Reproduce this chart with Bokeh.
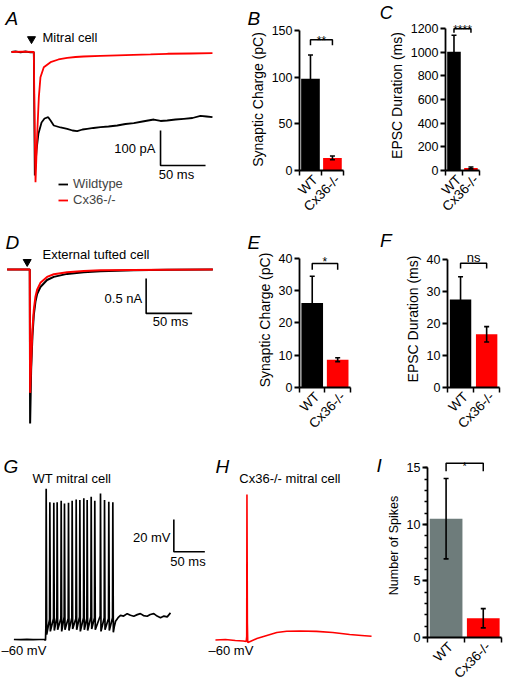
import math
from bokeh.plotting import figure
from bokeh.layouts import column, row
from bokeh.models import (Range1d, FixedTicker, Label, Whisker, TeeHead,
                          ColumnDataSource, Legend, LegendItem)
from bokeh.embed import file_html
from bokeh.resources import INLINE

# ------------------------------------------------------------------ data
# A: mitral cell EPSC (time ms, current pA)
A_T_WT = [-24.8, -20.3, -14.8, -9.2, -3.7, 0, 1.1, 3.0, 5.2, 8.6, 11.9, 16.0, 18.6, 22.2,
          29.7, 37.1, 43.0, 48.2, 54.1, 59.3, 66.3, 74.1, 83.0, 92.7, 101.9, 111.1, 120.8,
          133.3, 140.8, 148.2, 157.5, 166.7, 176.3, 185.2, 191.9, 198.5]
A_I_WT = [0, 2, -1.4, 1.4, -0.9, 0, -352.8, -281.4, -232.8, -201.4, -190, -186.3, -195.7,
          -210, -215.7, -219.4, -224.3, -226.3, -221.4, -219.4, -217.1, -214.8, -212.9, -210,
          -205.7, -203.4, -198.6, -192.9, -197.1, -195.7, -192.9, -190.8, -188.6, -182.3,
          -184.3, -186.3]
A_T_KO = [-24.8, -12, 0, 1.3, 1.9, 3.8, 5.6, 7.4, 11.1, 18.6, 27.4, 37.1, 46.3, 55.2, 74.1,
          93.0, 110.8, 129.7, 148.6, 174.2, 198.5]
A_I_KO = [0, 0.8, 0, -281.4, -372, -232.8, -129.1, -72, -43.4, -29.1, -21.4, -16.6, -14.3,
          -12.9, -10.9, -9.4, -8, -6.6, -5.1, -4.3, -3.4]

# D: external tufted cell EPSC (time ms, current nA)
D_T = [-24.6, -10, 0, 0.4, 1.5, 2.9, 4.4, 6.2, 8.0, 11.6, 18.8, 26.1, 40.6, 58.7, 76.8,
       113, 149, 199]
D_I_WT = [0, 0, 0, -2.21, -1.44, -0.96, -0.65, -0.46, -0.35, -0.25, -0.15, -0.105, -0.062,
          -0.038, -0.024, -0.01, -0.004, 0]
D_I_KO = [0, 0, 0, -1.77, -1.34, -0.87, -0.58, -0.39, -0.29, -0.19, -0.105, -0.067, -0.038,
          -0.019, -0.01, -0.005, -0.002, 0]

# G: WT mitral cell firing (time ms, membrane potential mV)
G_PRE_T = [-51, -40, -30, -20, -10, -2, 0]
G_PRE_V = [-60, -60.1, -59.9, -60.1, -60, -60, -60.5]
G_SPIKE_T = [1.1, 7.0, 13.4, 18.8, 25.3, 30.6, 37.1, 43.0, 49.5, 55.4, 61.8, 67.2, 73.7,
             79.5, 88.7, 95.2, 102.1, 108.6]
G_SPIKE_PEAK = [33.3, 25.0, 24.6, 25.0, 25.9, 24.2, 24.6, 25.9, 26.7, 26.3, 27.5, 26.3,
                28.4, 25.9, 30.4, 26.3, 25.3, 25.0]
G_SPIKE_THR = [-52, -47.5, -47, -46.5, -47, -46, -47, -46.5, -47, -46, -46.5, -47, -46,
               -46.5, -45.5, -46.5, -47, -46.5]
G_SPIKE_AHP = [-57, -55, -54.5, -54, -55, -54, -54.5, -53.5, -54, -55, -54, -54.5, -53.5,
               -54, -55, -54, -54.5, -55.5]
G_POST_T = [111, 113, 117, 121, 126, 131.8, 137, 142.4, 148, 153, 158, 164, 169, 174.7, 180,
            185.5, 191, 196.3, 201.6]
G_POST_V = [-52, -48.7, -46.5, -45.1, -45.5, -44, -45, -45.6, -44.6, -44, -45.2, -45.6,
            -44.5, -44, -45.5, -46.5, -45.5, -46, -43.5]

# H: Cx36-/- mitral cell firing (time ms, mV)
H_T = [-51.1, -35, -18.9, -6, -1.1, -0.4, 0, 0.7, 1.3, 5.3, 16.1, 32.3, 48.4, 64.5, 86,
       112.9, 139.2, 166.6, 186, 202.1]
H_V = [-60.3, -60, -60.6, -60.9, -61.2, -58, 29.8, -50, -61.9, -61.2, -59.4, -57.5, -55.7,
       -54.9, -54.7, -55, -55.7, -56.9, -57.5, -58]

# bar charts
CATEGORIES = ["WT", "Cx36-/-"]
B_MEAN, B_SEM = [98.5, 13.5], [25.5, 2.0]
C_MEAN, C_SEM = [1005, 22], [140, 8]
E_MEAN, E_SEM = [26.1, 8.6], [8.3, 0.6]
F_MEAN, F_SEM = [27.5, 16.6], [7.1, 2.4]
I_MEAN, I_SEM = [10.5, 1.7], [3.55, 0.85]
B_TICKS = [0, 50, 100, 150]
C_TICKS = [0, 200, 400, 600, 800, 1000, 1200]
E_TICKS = [0, 10, 20, 30, 40]
F_TICKS = [0, 10, 20, 30, 40]
I_TICKS = [0, 5, 10, 15]
I_MINOR = list(range(16))
# significance brackets: (leg bottom, top) in data units, and label
B_SIG = (134.5, 140.4, "**")
C_SIG = (1166, 1200, "****")
E_SIG = (36.4, 38.3, "*")
F_SIG = (37.2, 38.8, "ns")
I_SIG = (14.7, 15.4, "*")

# scale bars: (corner x, corner y, dx, dy)
A_SCALE = (140.8, -324.3, 50, 100)
D_SCALE = (126.5, -0.629, 50, 0.5)
G_SCALE = (207.0, -5.7, 50, 20)

# ------------------------------------------------------------------ layout helpers
W_PAGE, H_PAGE = 504, 689
REF_W, REF_H = 505.0, 690.0
SX = W_PAGE / REF_W
SY = H_PAGE / REF_H
FSC = (SX + SY) / 2
FONT = "Liberation Sans"
RED = "#ff0000"
BLACK = "#000000"
GRAY = "#6e7c7b"
BAR_X = [i + 1 for i in range(len(CATEGORIES))]


def X(v):
    return int(round(v * SX))


def Y(v):
    return int(round(v * SY))


def fs(v):
    return "%.1fpx" % (v * FSC)


def add_text(p, x, y, text, size=13, align="left", baseline="middle", style="normal"):
    p.add_layout(Label(x=x, y=y, text=text, text_font=FONT, text_font_size=fs(size),
                       text_align=align, text_baseline=baseline, text_font_style=style,
                       text_color=BLACK))


class Trace:
    def __init__(self, cell, xr, yr):
        self.cell, self.xr, self.yr = cell, xr, yr
        l, t, r, b = cell
        p = figure(width=X(r) - X(l), height=Y(b) - Y(t), x_range=Range1d(*xr),
                   y_range=Range1d(*yr), x_axis_location=None, y_axis_location=None,
                   toolbar_location=None, output_backend="svg", min_border=0,
                   outline_line_color=None, frame_align=False)
        p.grid.grid_line_color = None
        self.p = p

    def at(self, xp, yp):
        l, t, r, b = self.cell
        return (self.xr[0] + (xp - l) / (r - l) * (self.xr[1] - self.xr[0]),
                self.yr[1] - (yp - t) / (b - t) * (self.yr[1] - self.yr[0]))

    def text(self, xp, yp, text, **kw):
        x, y = self.at(xp, yp)
        add_text(self.p, x, y, text, **kw)

    def scalebar(self, sc):
        x0, y0, dx, dy = sc
        self.p.line(x=[x0, x0, x0 + dx], y=[y0 + dy, y0, y0], line_color=BLACK,
                    line_width=1.6)

    def arrow(self, xp, yp):
        x, y = self.at(xp, yp)
        self.p.scatter(x=[x], y=[y], marker="inverted_triangle", size=8 * FSC,
                       color=BLACK)


class Bars:
    def __init__(self, cell, axis_x, x2_px, y0_px, ytop_px, ymax, frame_right, frame_top,
                 ticks, minor, label, label_size, means, sems, colors, bar_w, sig, sig_y,
                 sig_size, letter, letter_x, letter_size=19, letter_standoff=0):
        l, t, r, b = cell
        width, height = X(r) - X(l), Y(b) - Y(t)
        bl, br = X(axis_x) - X(l), X(r) - X(frame_right)
        bt, bb = Y(frame_top) - Y(t), Y(b) - Y(y0_px)
        self.ppu_x = (x2_px - axis_x) * SX / 2.0
        self.ppu_y = (y0_px - ytop_px) * SY / ymax
        # labels sit a few pixels right of the bar centres, as in the original
        self.off = 5 * SX / self.ppu_x
        x0 = 0.5 - self.off
        self.x0 = x0
        self.axis_x, self.y0_px = axis_x, y0_px
        fw, fh = width - bl - br, height - bt - bb
        p = figure(width=width, height=height,
                   x_range=Range1d(x0, x0 + fw / self.ppu_x),
                   y_range=Range1d(0, fh / self.ppu_y),
                   toolbar_location=None, output_backend="svg",
                   min_border_left=bl, min_border_right=br, min_border_top=bt,
                   min_border_bottom=bb, outline_line_color=None, frame_align=False)
        p.grid.grid_line_color = None
        for ax in (p.xaxis[0], p.yaxis[0]):
            ax.axis_line_width = 1.8
            ax.axis_line_color = BLACK
            ax.major_tick_line_width = 1.8
            ax.major_tick_line_color = BLACK
            ax.minor_tick_line_width = 1.5
            ax.minor_tick_line_color = BLACK
            ax.major_label_text_font = FONT
            ax.major_label_text_color = BLACK
        xc = [x - self.off for x in BAR_X]
        xa = p.xaxis[0]
        xa.ticker = FixedTicker(ticks=BAR_X, minor_ticks=[x0, x0 + 1, x0 + 2])
        xa.major_label_overrides = {x: c for x, c in zip(BAR_X, CATEGORIES)}
        xa.major_label_text_font_size = fs(13.5)
        xa.major_tick_out = 0
        xa.major_tick_in = 0
        xa.minor_tick_out = 5
        xa.minor_tick_in = 0
        xa.major_label_orientation = math.pi / 4
        xa.major_label_standoff = 2
        xa.bounds = (x0, x0 + 2)
        ya = p.yaxis[0]
        ya.ticker = FixedTicker(ticks=ticks, minor_ticks=minor)
        ya.major_label_text_font_size = fs(12.5)
        ya.major_tick_out = 5
        ya.major_tick_in = 0
        ya.minor_tick_out = 3 if minor else 0
        ya.minor_tick_in = 0
        if not minor:
            ya.minor_tick_line_color = None
        ya.bounds = (0, ymax)
        ya.major_label_standoff = 2
        ya.axis_label = label
        ya.axis_label_text_font = FONT
        ya.axis_label_text_font_style = "normal"
        ya.axis_label_text_font_size = fs(label_size)
        ya.axis_label_text_color = BLACK
        ya.axis_label_standoff = 3

        src = ColumnDataSource(dict(x=xc, top=means, color=colors,
                                    upper=[m + s for m, s in zip(means, sems)],
                                    lower=[m - s for m, s in zip(means, sems)]))
        p.vbar(x="x", top="top", width=bar_w, color="color", line_color=None, source=src)
        p.add_layout(Whisker(source=src, base="x", upper="upper", lower="lower",
                             line_color=BLACK, line_width=1.6, level="annotation",
                             upper_head=TeeHead(size=int(6 * FSC), line_width=1.6,
                                                line_color=BLACK),
                             lower_head=TeeHead(size=int(6 * FSC), line_width=1.6,
                                                line_color=BLACK)))
        lo, hi, stxt = sig
        p.line(x=[xc[0], xc[0], xc[1], xc[1]], y=[lo, hi, hi, lo],
               line_color=BLACK, line_width=1.5)
        _, sy = self.at(0, sig_y)
        add_text(p, (xc[0] + xc[1]) / 2, sy, stxt, size=sig_size, align="center",
                 baseline="alphabetic")
        if letter:
            p.title.text = letter
            p.title.text_font = FONT
            p.title.text_font_style = "italic"
            p.title.text_font_size = fs(letter_size)
            p.title.text_color = BLACK
            p.title.align = "left"
            p.title.offset = (letter_x - axis_x) * SX
            p.title.standoff = letter_standoff
        self.p = p

    def at(self, xp, yp):
        return (self.x0 + (xp - self.axis_x) * SX / self.ppu_x,
                (self.y0_px - yp) * SY / self.ppu_y)


# ------------------------------------------------------------------ panel A
A = Trace((0, 0, 245, 225), (-37.0, 235.2), (-495.7, 147.1))
rw = A.p.line(A_T_WT, A_I_WT, line_color=BLACK, line_width=1.8)
rk = A.p.line(A_T_KO, A_I_KO, line_color=RED, line_width=1.8)
A.scalebar(A_SCALE)
A.arrow(31, 38.5)
A.text(5, 18, "A", size=19, style="italic")
A.text(42, 37, "Mitral cell")
A.text(155, 147.5, "100 pA", align="right")
A.text(176, 174, "50 ms", align="center")
leg = Legend(items=[LegendItem(label="Wildtype", renderers=[rw]),
                    LegendItem(label="Cx36-/-", renderers=[rk])],
             location=(X(58), Y(225) - Y(207)), padding=0, margin=0, spacing=1,
             glyph_width=X(10), glyph_height=12, label_height=12, label_standoff=5,
             label_text_font=FONT, label_text_font_size=fs(13), border_line_color=None,
             background_fill_alpha=0)
A.p.add_layout(leg)

# ------------------------------------------------------------------ panel B, C
B = Bars((245, 0, 375, 225), 300, 344, 170, 30, 150, 370, 28, B_TICKS, [],
         "Synaptic Charge (pC)", 14, B_MEAN, B_SEM, [BLACK, RED], 0.85, B_SIG, 40, 12,
         "B", 248)
C = Bars((375, 0, 505, 225), 446, 480, 170.3, 28.3, 1200, 500, 20, C_TICKS, [],
         "EPSC Duration (ms)", 14, C_MEAN, C_SEM, [BLACK, RED], 0.8, C_SIG, 30, 12,
         "C", 380, 18, -4)

# ------------------------------------------------------------------ panel D
D = Trace((0, 225, 245, 440), (-31.8, 234.5), (-2.44, 0.633))
D.p.line(D_T, D_I_WT, line_color=BLACK, line_width=2)
D.p.line(D_T, D_I_KO, line_color=RED, line_width=2)
D.scalebar(D_SCALE)
D.arrow(26.7, 261.5)
D.text(5, 242, "D", size=19, style="italic")
D.text(42, 254, "External tufted cell")
D.text(141.7, 298, "0.5 nA", align="right")
D.text(170, 321, "50 ms", align="center")

# ------------------------------------------------------------------ panel E, F
E = Bars((245, 225, 375, 440), 300, 351, 396.7, 258.5, 40, 370, 252, E_TICKS, [],
         "Synaptic Charge (pC)", 14, E_MEAN, E_SEM, [BLACK, RED], 0.85, E_SIG, 263, 12,
         "E", 248)
F = Bars((375, 225, 505, 440), 447.7, 500, 396.7, 260, 40, 503, 250, F_TICKS, [],
         "EPSC Duration (ms)", 14, F_MEAN, F_SEM, [BLACK, RED], 0.82, F_SIG, 258, 13,
         "F", 380)

# ------------------------------------------------------------------ panel G
g_t, g_v = list(G_PRE_T), list(G_PRE_V)
for ts, thr, pk, ahp in zip(G_SPIKE_T, G_SPIKE_THR, G_SPIKE_PEAK, G_SPIKE_AHP):
    g_t += [ts - 0.5, ts, ts + 0.8]
    g_v += [thr, pk, ahp]
g_t += G_POST_T
g_v += G_POST_V
G = Trace((0, 440, 207, 690), (-72.6, 261.3), (-90.95, 63.8))
G.p.line(g_t, g_v, line_color=BLACK, line_width=1.7)
G.scalebar(G_SCALE)
G.text(3, 467, "G", size=19, style="italic")
G.text(32, 479, "WT mitral cell")
G.text(170, 537.7, "20 mV", align="right")
G.text(187.5, 561.7, "50 ms", align="center")
G.text(1, 651, "\u201360 mV")

# ------------------------------------------------------------------ panel H (+ letter I)
Hp = Trace((207, 440, 384, 690), (-64.0, 221.5), (-90.95, 63.8))
Hp.p.line(H_T, H_V, line_color=RED, line_width=1.6)
Hp.text(215, 467, "H", size=19, style="italic")
Hp.text(239, 479, "Cx36-/- mitral cell")
Hp.text(208, 651, "\u201360 mV")
Hp.text(377, 466, "I", size=19, style="italic")

# ------------------------------------------------------------------ panel I
I = Bars((384, 440, 505, 690), 423.3, 502.7, 641, 468.3, 15, 504, 454, I_TICKS, I_MINOR,
         "Number of Spikes", 12.5, I_MEAN, I_SEM, [GRAY, RED], 0.88, I_SIG, 466, 11,
         None, 0)

layout = column(row(A.p, B.p, C.p), row(D.p, E.p, F.p), row(G.p, Hp.p, I.p))

with open("out.html", "w") as f:
    f.write(file_html(layout, INLINE))
